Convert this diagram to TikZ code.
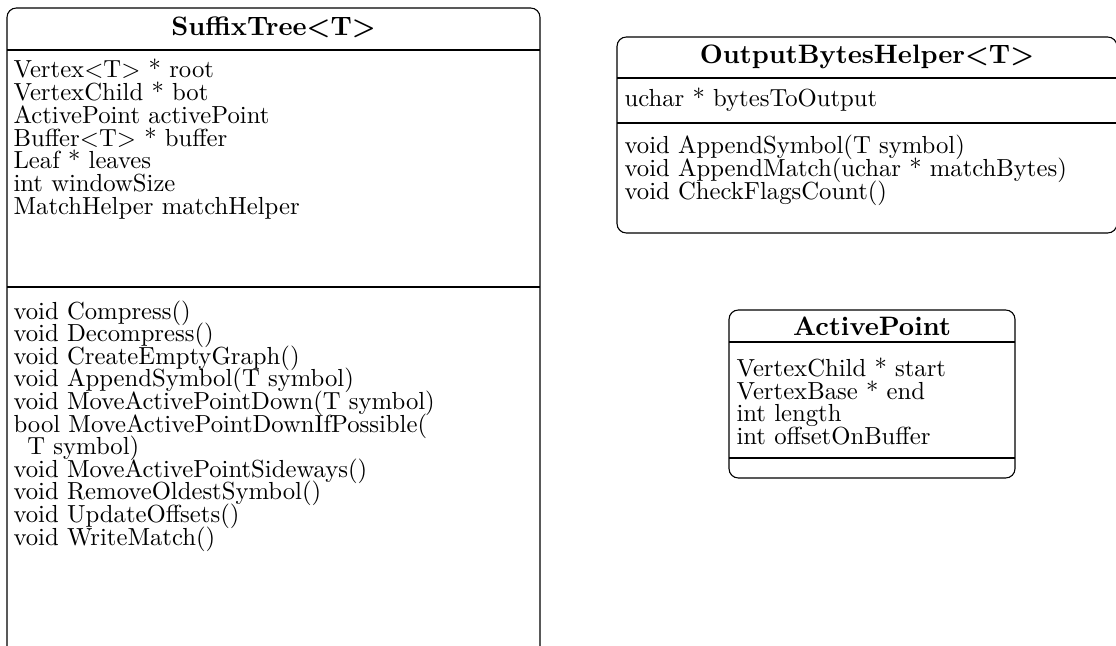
\documentclass[tikz,border=0pt]{standalone}
\usepackage{tikz}

\begin{document}
\begin{tikzpicture}[x=0.405pt,y=-0.405pt,line width=0.45pt]
\tikzstyle{umlbox}=[draw, rounded corners=3.8pt]
\tikzstyle{umltitle}=[font=\fontsize{10.8}{13}\selectfont\bfseries, anchor=base, inner sep=0pt]
\tikzstyle{member}=[anchor=base west, inner sep=0pt]

\clip (0,0) rectangle (1116,646);

% SuffixTree class
\coordinate (st-nw) at (7,8);
\coordinate (st-se) at (540,700);
\coordinate (st-s1) at (7,50);
\coordinate (st-s2) at (7,287);
\draw[umlbox] (st-nw) rectangle (st-se);
\draw (st-s1) -- (st-s1 -| st-se);
\draw (st-s2) -- (st-s2 -| st-se);
\node[umltitle] (st) at (273.5,36) {SuffixTree<T>};
\foreach \txt [count=\i] in {Vertex<T> * root, VertexChild * bot,
  ActivePoint activePoint, Buffer<T> * buffer, Leaf * leaves,
  int windowSize, MatchHelper matchHelper}
  \node[member] (st-a\i) at (13,{55+22.8*\i}) {\txt};
\foreach \txt [count=\i] in {void Compress(), void Decompress(),
  void CreateEmptyGraph(), void AppendSymbol(T symbol),
  void MoveActivePointDown(T symbol), bool MoveActivePointDownIfPossible(,
  \hspace*{5.6pt}T symbol), void MoveActivePointSideways(),
  void RemoveOldestSymbol(), void UpdateOffsets(), void WriteMatch()}
  \node[member] (st-m\i) at (13,{296.4+22.6*\i}) {\txt};

% OutputBytesHelper class
\coordinate (ob-nw) at (617,37);
\coordinate (ob-se) at (1117,233);
\coordinate (ob-s1) at (617,78);
\coordinate (ob-s2) at (617,123);
\draw[umlbox] (ob-nw) rectangle (ob-se);
\draw (ob-s1) -- (ob-s1 -| ob-se);
\draw (ob-s2) -- (ob-s2 -| ob-se);
\node[umltitle] (ob) at (867,64) {OutputBytesHelper<T>};
\node[member] (ob-a1) at (624,107) {uchar * bytesToOutput};
\foreach \txt [count=\i] in {void AppendSymbol(T symbol),
  void AppendMatch(uchar * matchBytes), void CheckFlagsCount()}
  \node[member] (ob-m\i) at (624,{131.3+22.7*\i}) {\txt};

% ActivePoint class
\coordinate (ap-nw) at (729,310);
\coordinate (ap-se) at (1015,478);
\coordinate (ap-s1) at (729,342);
\coordinate (ap-s2) at (729,458);
\draw[umlbox] (ap-nw) rectangle (ap-se);
\draw (ap-s1) -- (ap-s1 -| ap-se);
\draw (ap-s2) -- (ap-s2 -| ap-se);
\node[umltitle] (ap) at (872,336) {ActivePoint};
\foreach \txt [count=\i] in {VertexChild * start, VertexBase * end,
  int length, int offsetOnBuffer}
  \node[member] (ap-a\i) at (736,{353.5+22.8*\i}) {\txt};

\end{tikzpicture}
\end{document}
